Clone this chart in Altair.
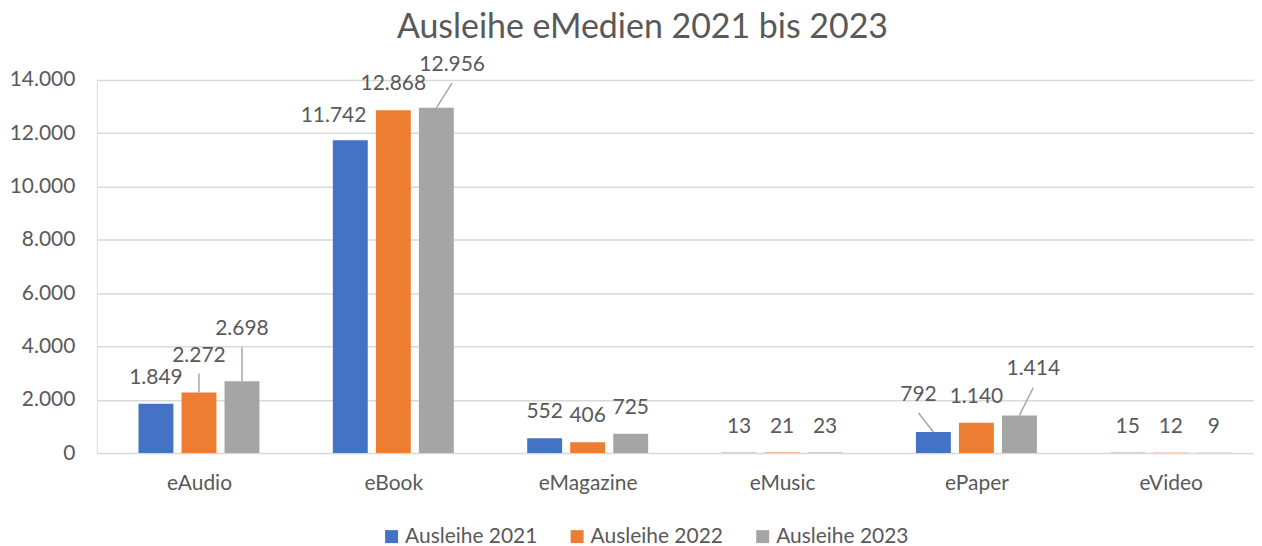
import altair as alt
import pandas as pd

CATEGORIES = ["eAudio", "eBook", "eMagazine", "eMusic", "ePaper", "eVideo"]
SERIES = ["Ausleihe 2021", "Ausleihe 2022", "Ausleihe 2023"]
V2021 = [1849, 11742, 552, 13, 792, 15]
V2022 = [2272, 12868, 406, 21, 1140, 12]
V2023 = [2698, 12956, 725, 23, 1414, 9]
Y_TICKS = [0, 2000, 4000, 6000, 8000, 10000, 12000, 14000]
COLORS = ["#4472C4", "#ED7D31", "#A5A5A5"]

# ---- layout / style (not data) ----
PLOT_W = 1160
X_RANGE = 1179
PLOT_H = 374
Y_MAX = 14000
GROUP_STEP_PX = 43.5
UNIT_PER_PX_X = 6 / X_RANGE
UNIT_PER_PX_Y = Y_MAX / PLOT_H
LABEL_GAP_PX = 26
LEADER_GAP_PX = 18
FONT = "Lato"
TEXT = "#595959"
# labels that were dragged away from their default spot: (dx px, dy px upward, leader line)
LABEL_MOVES = {
    ("eAudio", "Ausleihe 2022"): (0, 11, True),
    ("eAudio", "Ausleihe 2023"): (0, 26, True),
    ("eBook", "Ausleihe 2021"): (-17, -2, False),
    ("eBook", "Ausleihe 2023"): (16, 17, True),
    ("ePaper", "Ausleihe 2021"): (-15, 11, True),
    ("ePaper", "Ausleihe 2023"): (14, 20, True),
}

rows = []
for s_i, (s, vals) in enumerate(zip(SERIES, [V2021, V2022, V2023])):
    for c_i, (c, v) in enumerate(zip(CATEGORIES, vals)):
        xpos = c_i + (s_i - 1) * GROUP_STEP_PX * UNIT_PER_PX_X
        dx, dy, lead = LABEL_MOVES.get((c, s), (0, 0, False))
        lx = xpos + dx * UNIT_PER_PX_X
        ly = v + (LABEL_GAP_PX + dy) * UNIT_PER_PX_Y
        rows.append({
            "cat": c, "series": s, "value": v, "xpos": xpos,
            "label": f"{v:,}".replace(",", "."),
            "lx": lx, "ly": ly, "lead": lead,
            "lead_x": lx, "lead_y": ly - LEADER_GAP_PX * UNIT_PER_PX_Y,
        })
df = pd.DataFrame(rows)

xscale = alt.Scale(domain=[-0.5, 5.5], range=[0, X_RANGE], nice=False, zero=False)
yscale = alt.Scale(domain=[0, Y_MAX], nice=False)
cat_expr = "[" + ",".join(f"'{c}'" for c in CATEGORIES) + "][datum.value]"

x_axis = alt.Axis(values=list(range(len(CATEGORIES))), labelExpr=cat_expr,
                  grid=False, domain=False, ticks=False, tickSize=0,
                  labelPadding=20, labelFont=FONT, labelFontSize=21,
                  labelColor=TEXT, title=None)
y_axis = alt.Axis(values=Y_TICKS,
                  labelExpr="replace(format(datum.value, ','), ',', '.')",
                  grid=True, gridColor="#D9D9D9", gridWidth=1.5,
                  domain=False, ticks=False, tickSize=0, labelPadding=22,
                  labelFont=FONT, labelFontSize=21, labelColor=TEXT, title=None)

base = alt.Chart(df)

bars = base.mark_bar(orient="vertical", size=35).encode(
    x=alt.X("xpos:Q", scale=xscale, axis=x_axis),
    y=alt.Y("value:Q", scale=yscale, stack=None, axis=y_axis),
    color=alt.Color("series:N", scale=alt.Scale(domain=SERIES, range=COLORS),
                    legend=alt.Legend(title=None, orient="none", direction="horizontal",
                                      legendX=285, legendY=447, padding=0,
                                      symbolType="square", symbolSize=169,
                                      symbolStrokeWidth=0, labelFont=FONT,
                                      labelFontSize=21, labelColor=TEXT,
                                      labelOffset=3, columnPadding=29)),
)

leaders = base.transform_filter("datum.lead").mark_rule(
    color="#A6A6A6", strokeWidth=1.5
).encode(
    x=alt.X("lead_x:Q", scale=xscale, axis=x_axis),
    y=alt.Y("lead_y:Q", scale=yscale, axis=y_axis),
    x2="xpos:Q",
    y2="value:Q",
)

labels = base.mark_text(
    font=FONT, fontSize=21, color=TEXT, baseline="middle", align="center"
).encode(
    x=alt.X("lx:Q", scale=xscale, axis=x_axis),
    y=alt.Y("ly:Q", scale=yscale, axis=y_axis),
    text="label:N",
)

chart = alt.layer(bars, leaders, labels).properties(
    width=PLOT_W,
    height=PLOT_H,
    autosize=alt.AutoSizeParams(type="none"),
    padding={"left": 89, "top": 71.5, "right": 0, "bottom": 92.5},
    title=alt.TitleParams(text="Ausleihe eMedien 2021 bis 2023", font=FONT,
                          fontSize=34, fontWeight="normal", color=TEXT,
                          anchor="middle", dx=-33, offset=9),
).configure_view(stroke=None).configure(background="white")

chart.save("out.html", embed_options={"renderer": "svg", "actions": False})
